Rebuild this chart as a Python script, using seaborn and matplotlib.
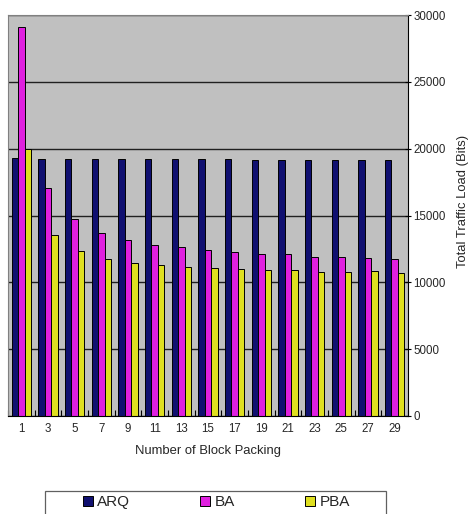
import numpy as np
import pandas as pd
import matplotlib
matplotlib.use("Agg")
import matplotlib.pyplot as plt
from matplotlib.patches import Rectangle
import seaborn as sns

# --- Daten ---
packing = [1, 3, 5, 7, 9, 11, 13, 15, 17, 19, 21, 23, 25, 27, 29]
arq = [19280, 19260, 19250, 19240, 19230, 19220, 19220, 19200, 19190, 19180, 19180, 19170, 19170, 19160, 19160]
ba = [29100, 17050, 14730, 13690, 13160, 12790, 12620, 12420, 12240, 12090, 12090, 11870, 11870, 11850, 11720]
pba = [19970, 13540, 12340, 11720, 11420, 11270, 11140, 11050, 10970, 10900, 10900, 10770, 10770, 10820, 10720]
schemes = ["ARQ", "BA", "PBA"]
colors = ["#000080", "#FF00FF", "#FFFF00"]
y_ticks = [0, 5000, 10000, 15000, 20000, 25000, 30000]

df = pd.DataFrame({
    "packing": [str(p) for p in packing] * 3,
    "load": arq + ba + pba,
    "scheme": [s for s in schemes for _ in packing],
})

sns.set_theme(style="white")
plt.rcParams["font.family"] = ["Liberation Sans", "DejaVu Sans"]

W, H = 475, 514
fig = plt.figure(figsize=(W / 100, H / 100), dpi=100)
ax = fig.add_axes([8 / W, 1 - 416 / H, 400 / W, 401 / H])
ax.set_facecolor("#C0C0C0")

sns.barplot(data=df, x="packing", y="load", hue="scheme", palette=colors,
            order=[str(p) for p in packing], hue_order=schemes,
            width=0.72, edgecolor="black", linewidth=0.7, ax=ax)

ax.set_xlim(-0.5, len(packing) - 0.5)
ax.set_ylim(0, 30000)
ax.set_yticks(y_ticks)
ax.yaxis.tick_right()
ax.yaxis.set_label_position("right")
ax.grid(axis="y", color="#202020", linewidth=1.0)
ax.set_axisbelow(True)

ax.tick_params(axis="y", which="major", direction="inout", length=4, width=0.8,
               color="black", labelsize=8.3, pad=2, right=True, left=False)
ax.tick_params(axis="x", which="major", length=0, labelsize=8.3, pad=5)
# kleine Striche zwischen den Gruppen (wie im Excel-Original)
ax.set_xticks(np.arange(-0.5, len(packing), 1.0), minor=True)
ax.tick_params(axis="x", which="minor", direction="in", length=4, width=0.8,
               color="black", bottom=True)

for side in ["top", "left"]:
    ax.spines[side].set_color("#808080")
    ax.spines[side].set_linewidth(0.8)
for side in ["bottom", "right"]:
    ax.spines[side].set_color("black")
    ax.spines[side].set_linewidth(0.8)

ax.set_xlabel("Number of Block Packing", fontsize=9.4, labelpad=7)
ax.set_ylabel("Total Traffic Load (Bits)", fontsize=9.4)
ax.yaxis.set_label_coords(1.123, 0.534)

# Legende: Rahmen separat, damit die Box breiter als der Inhalt ist
handles, labels = ax.get_legend_handles_labels()
ax.legend_.remove()
fig.patches.append(Rectangle((45 / W, 1 - 520 / H), 341 / W, 29 / H,
                             transform=fig.transFigure, facecolor="white",
                             edgecolor="#606060", linewidth=0.9, zorder=0))
fig.legend(handles, labels, loc="center left", ncol=3,
           bbox_to_anchor=(83 / W, 1 - 502 / H),
           fontsize=11, frameon=False,
           handlelength=0.65, handleheight=0.65, handletextpad=0.28,
           columnspacing=4.6, borderpad=0, borderaxespad=0)

fig.savefig("out.png", dpi=100)
